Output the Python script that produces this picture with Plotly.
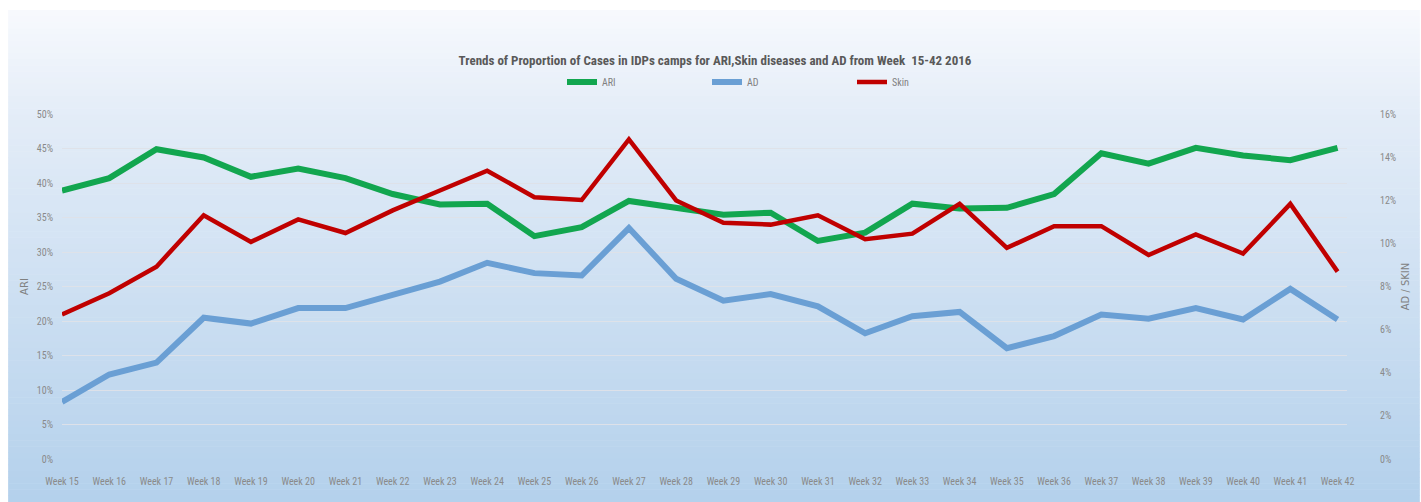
import plotly.graph_objects as go

weeks = [f"Week {w}" for w in range(15, 43)]

ari = [0.389, 0.407, 0.449, 0.437, 0.409, 0.421, 0.407, 0.384, 0.369, 0.370,
       0.323, 0.336, 0.374, 0.363, 0.354, 0.357, 0.316, 0.328, 0.370, 0.363,
       0.364, 0.384, 0.443, 0.428, 0.451, 0.440, 0.433, 0.451]

ad = [0.0265, 0.0392, 0.0447, 0.0655, 0.0628, 0.0700, 0.0700, 0.0762, 0.0823, 0.0910,
      0.0862, 0.0851, 0.1071, 0.0836, 0.0734, 0.0765, 0.0708, 0.0583, 0.0662, 0.0682,
      0.0514, 0.0570, 0.0670, 0.0651, 0.0700, 0.0647, 0.0789, 0.0647]

skin = [0.0670, 0.0769, 0.0892, 0.1130, 0.1007, 0.1111, 0.1048, 0.1153, 0.1245, 0.1337,
        0.1214, 0.1201, 0.1482, 0.1199, 0.1096, 0.1087, 0.1130, 0.1019, 0.1045, 0.1183,
        0.0979, 0.1080, 0.1080, 0.0946, 0.1041, 0.0953, 0.1183, 0.0869]

left_ticks = [0, 0.05, 0.10, 0.15, 0.20, 0.25, 0.30, 0.35, 0.40, 0.45, 0.50]
right_ticks = [0, 0.02, 0.04, 0.06, 0.08, 0.10, 0.12, 0.14, 0.16]

W, H = 1421, 502
L, R = 62, 1350
T, B = 111, 459
FONT = "Liberation Sans Narrow, Arial Narrow, Roboto Condensed, sans-serif"

fig = go.Figure()

fig.add_trace(go.Scatter(x=weeks, y=ari, name="ARI", mode="lines",
                         line=dict(color="#12a64f", width=6)))
fig.add_trace(go.Scatter(x=weeks, y=ad, name="AD", mode="lines", yaxis="y2",
                         line=dict(color="#6a9fd4", width=6)))
fig.add_trace(go.Scatter(x=weeks, y=skin, name="Skin", mode="lines", yaxis="y2",
                         line=dict(color="#c00000", width=4.5)))

def px2paper_x(px):
    return (px - L) / (R - L)

def px2paper_y(py):
    return (B - py) / (B - T)

top_c = (248, 250, 254)
mid_c = (228, 237, 248)
bot_c = (180, 209, 236)
shapes = []
y0, y1 = 6, 502
n = 80
for i in range(n):
    a = y0 + (y1 - y0) * i / n
    b = y0 + (y1 - y0) * (i + 1) / n
    yc = (a + b) / 2
    if yc < T:
        t = (yc - y0) / (T - y0)
        c = tuple(top_c[k] + (mid_c[k] - top_c[k]) * t for k in range(3))
    else:
        t = (yc - T) / (y1 - T)
        c = tuple(mid_c[k] + (bot_c[k] - mid_c[k]) * t for k in range(3))
    shapes.append(dict(type="rect", xref="paper", yref="paper",
                       x0=px2paper_x(8), x1=px2paper_x(W + 2),
                       y0=px2paper_y(b + 0.5), y1=px2paper_y(a),
                       fillcolor="rgb(%d,%d,%d)" % c, line=dict(width=0),
                       layer="below"))

fig.update_layout(
    width=W, height=H,
    margin=dict(l=L, r=W - R, t=T, b=H - B, pad=0),
    paper_bgcolor="white",
    plot_bgcolor="rgba(0,0,0,0)",
    shapes=shapes,
    showlegend=True,
    title=dict(text="<b>Trends of Proportion of Cases in IDPs camps for ARI,Skin diseases and AD from Week  15-42 2016</b>",
               x=715 / W, xanchor="center", y=1 - 60 / H, yanchor="middle",
               font=dict(family=FONT, size=13, color="#595959")),
    legend=dict(orientation="h", x=(562) / W, xref="container", xanchor="left",
                y=1 - 82 / H, yref="container", yanchor="middle",
                font=dict(family=FONT, size=10, color="#7f7f7f"),
                bgcolor="rgba(0,0,0,0)", entrywidth=100, itemwidth=30),
    xaxis=dict(type="category", range=[0, 27.2], showgrid=False, zeroline=False,
               showline=False, ticks="", ticklabelstandoff=15,
               tickfont=dict(family=FONT, size=10, color="#8a8a8a")),
    yaxis=dict(range=[0, 0.5], tickvals=left_ticks, tickformat=".0%",
               showgrid=True, gridcolor="rgba(222,226,232,0.95)", gridwidth=1,
               zeroline=False, showline=False, ticklabelstandoff=8,
               tickfont=dict(family=FONT, size=10, color="#8a8a8a"),
               title=dict(text="ARI", standoff=6,
                          font=dict(family="DejaVu Sans", size=10, color="#808080"))),
    yaxis2=dict(range=[0, 0.16], tickvals=right_ticks, tickformat=".0%",
                overlaying="y", side="right", showgrid=False, zeroline=False,
                showline=False, ticklabelstandoff=32,
                tickfont=dict(family=FONT, size=10, color="#8a8a8a"),
                title=dict(text="AD / SKIN", standoff=6,
                           font=dict(family="DejaVu Sans", size=10, color="#808080"))),
)

fig.write_html("out.html", config={"displayModeBar": False},
               post_script="document.body.style.margin='0';document.body.style.overflow='hidden';")
